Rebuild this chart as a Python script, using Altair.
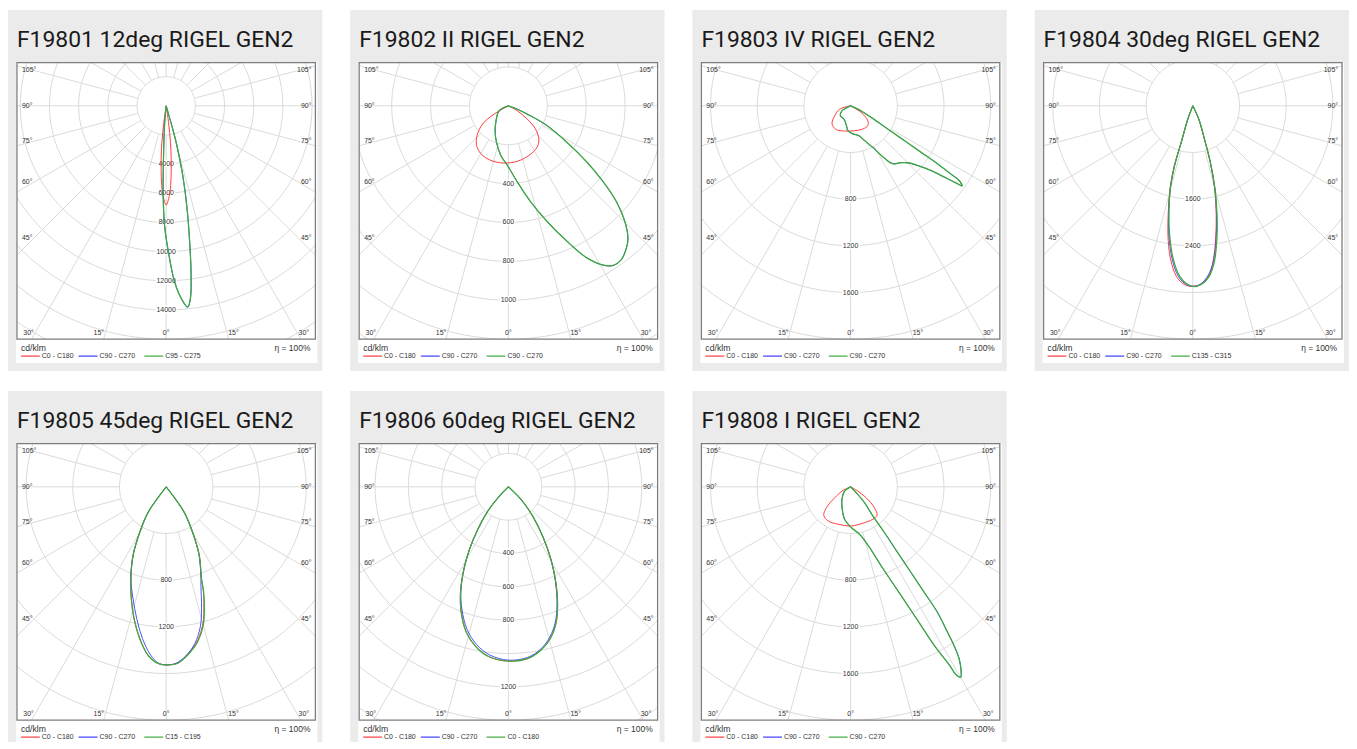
import math
import pandas as pd
import altair as alt

# ---------------- data ----------------
TITLES = ["F19801 12deg RIGEL GEN2", "F19802 II RIGEL GEN2", "F19803 IV RIGEL GEN2",
          "F19804 30deg RIGEL GEN2", "F19805 45deg RIGEL GEN2", "F19806 60deg RIGEL GEN2",
          "F19808 I RIGEL GEN2"]
GRID_MAX = [16000, 1200, 2000, 4000, 2000, 1400, 2000]
GRID_RINGS = [8, 6, 5, 5, 5, 7, 5]
RING_LABELS = [[4000, 6000, 8000, 10000, 12000, 14000], [400, 600, 800, 1000], [800, 1200, 1600],
               [1600, 2400], [800, 1200], [400, 600, 800, 1200], [800, 1200, 1600]]
LEGEND_LABELS = [["C0 - C180", "C90 - C270", "C95 - C275"],
                 ["C0 - C180", "C90 - C270", "C90 - C270"],
                 ["C0 - C180", "C90 - C270", "C90 - C270"],
                 ["C0 - C180", "C90 - C270", "C135 - C315"],
                 ["C0 - C180", "C90 - C270", "C15 - C195"],
                 ["C0 - C180", "C90 - C270", "C0 - C180"],
                 ["C0 - C180", "C90 - C270", "C90 - C270"]]
SIDE_ANGLES = [105, 90, 75, 60, 45]
BOTTOM_ANGLES = [-30, -15, 0, 15, 30]
SPOKE_ANGLES = list(range(0, 360, 15))
UNIT = "cd/klm"
EFFICIENCY = "η = 100%"

# panel 1
P1_RED_ANG = [-10, -8, -6.7, -5.4, -3.5, -2.1, 0, 2.1, 3.5, 5.4, 6.7, 8, 10]
P1_RED_VAL = [0, 1150, 2520, 3650, 5230, 6130, 6800, 6130, 5230, 3650, 2520, 1150, 0]
P1_GREEN_ANG = [-6, -4.8, -2.9, -2.0, -0.8, 1.25, 2.7, 4.4, 6.1, 7.2, 8.4, 9.8, 11.5, 13.4, 15.3, 15.8, 17]
P1_GREEN_VAL = [0, 1370, 3640, 5900, 8170, 10440, 12040, 13200, 13860, 13270, 11700, 9450, 7180, 4900, 2590, 1415, 0]
P1_BLUE_VAL = [0, 1370, 3640, 5900, 8170, 10440, 12040, 13220, 13900, 13300, 11700, 9450, 7180, 4900, 2590, 1415, 0]
# panel 2
P2_RED_ANG = [-66, -59.8, -54.8, -46.5, -38.7, -29.8, -17.8, -4.3, 9.1, 22.5, 34.8, 42.6, 49.5, 54.9, 60.9, 64]
P2_RED_VAL = [0, 85, 162, 222, 261, 284, 295, 295, 289, 276, 259, 231, 183, 118, 52, 0]
P2_GREEN_ANG = [-66, -61.8, -37.2, -26.6, -18.1, -8.7, -1, 6.7, 13, 18.5, 23.4, 27.3, 30.8, 33.3, 36.3,
                39.7, 42.1, 45.2, 48.4, 51.3, 54.4, 58.1, 62.9, 66.3, 70, 72]
P2_GREEN_VAL = [0, 54, 107, 152, 197, 258, 306, 394, 506, 627, 759, 880, 954, 982, 981,
                950, 917, 844, 743, 625, 496, 354, 224, 106, 40, 0]
# panel 3
P3_RED_ANG = [-80, -73, -58, -45.5, -30.8, -13.3, 9.1, 27.9, 40.9, 49.1, 58, 59.7, 61]
P3_RED_VAL = [0, 98, 161, 223, 238, 222, 216, 225, 225, 195, 107, 39, 0]
P3_GREEN_ANG = [-65, -60, -45.9, -26.6, -12.6, -6.1, 4.7, 15.5, 21.8, 29, 32.8, 36, 41.5, 45, 48.3, 51.1,
                52.7, 53.9, 54.3, 55.5, 55.8, 56.3, 56.6, 57.1, 58, 60.6, 65.6, 70]
P3_GREEN_VAL = [0, 85, 122, 127, 169, 214, 242, 265, 321, 422, 533, 613, 651, 690, 768, 882,
                1006, 1131, 1177, 1126, 1035, 894, 721, 548, 375, 202, 69, 0]
# panel 4
P4_RED_ANG = [-24, -20.6, -17.6, -17.2, -15.4, -13.0, -10.9, -8.4, -5.5, -2.65, 0, 2.7, 5.6, 7.8, 9.8, 12.1,
              14.8, 17.2, 19.3, 24.2, 26]
P4_RED_VAL = [0, 242, 655, 1068, 1472, 1870, 2254, 2638, 2936, 3067, 3092, 3056, 2908, 2634, 2303, 1915,
              1468, 1010, 601, 249, 0]
P4_BLUE_ANG = [-24, -20.6, -17.6, -17.0, -15.2, -12.8, -10.5, -7.8, -4.9, -2.0, 0.2, 2.2, 5.0, 7.6, 10.0,
               12.3, 14.9, 17.2, 19.3, 24.2, 26]
P4_BLUE_VAL = [0, 242, 655, 1068, 1470, 1865, 2250, 2635, 2930, 3068, 3095, 3068, 2930, 2680, 2305,
               1915, 1468, 1010, 601, 249, 0]
P4_GREEN_ANG = [-24, -20.6, -17.6, -17.0, -15.2, -12.7, -10.2, -7.4, -4.4, -1.6, 0.5, 2.7, 5.5, 7.9, 10.3,
                12.5, 15.0, 17.3, 19.3, 24.2, 26]
P4_GREEN_VAL = [0, 242, 655, 1068, 1470, 1861, 2248, 2632, 2931, 3065, 3098, 3067, 2936, 2692, 2307,
                1918, 1468, 1010, 601, 249, 0]
# panel 5
P5_GREEN_ANG = [-40, -37.1, -35.2, -30.1, -25.7, -21.0, -17.3, -13.7, -9.9, -6.2, -2.7, 0.3, 3.8, 7.3, 11.5,
                15.0, 17.4, 19.6, 21.0, 25.7, 30.1, 35.2, 37.1, 40]
P5_GREEN_VAL = [0, 117, 271, 453, 655, 845, 1004, 1162, 1319, 1450, 1514, 1526, 1515, 1453, 1355,
                1228, 1094, 957, 845, 655, 453, 271, 117, 0]
P5_RED_VAL = [0, 117, 271, 453, 655, 845, 1004, 1162, 1319, 1450, 1514, 1526, 1513, 1448, 1345,
              1215, 1083, 950, 842, 655, 453, 271, 117, 0]
P5_BLUE_ANG = [-40, -37.1, -35.2, -30.1, -25.7, -21.0, -16.5, -12.6, -8.9, -5.3, -2.5, 0.3, 3.2, 6.7, 10.4,
               13.7, 16.2, 19.4, 21.0, 25.7, 30.1, 35.2, 37.1, 40]
P5_BLUE_VAL = [0, 117, 271, 453, 655, 845, 1000, 1157, 1315, 1447, 1513, 1526, 1514, 1457, 1364,
               1235, 1087, 896, 830, 650, 453, 271, 117, 0]
# panel 6
P6_GREEN_ANG = [-50, -44, -40.3, -35.7, -31.9, -28.4, -24.4, -20.6, -16.2, -11.4, -6.3, 0, 6.4, 11.2, 15.4,
                19.1, 22.5, 26.4, 30.4, 34.8, 39.7, 45, 50]
P6_GREEN_VAL = [0, 77, 191, 314, 441, 561, 695, 804, 907, 980, 1027, 1045, 1037, 1000, 945,
                870, 771, 640, 503, 359, 227, 107, 0]
P6_BLUE_VAL = [0, 77, 191, 314, 441, 561, 690, 790, 890, 965, 1015, 1040, 1030, 993, 935,
               860, 762, 636, 503, 359, 227, 107, 0]
# panel 7
P7_RED_ANG = [-70, -64.4, -55.5, -49.2, -43.3, -33.4, -18.6, 1, 18.6, 34.4, 42.9, 48.8, 54.9, 59.4, 66]
P7_RED_VAL = [0, 72, 165, 274, 335, 350, 338, 335, 329, 337, 333, 271, 163, 72, 0]
P7_GREEN_ANG = [-60, -54.2, -34.4, -20.2, -10.4, 0.9, 10.7, 17.3, 21.1, 23.9, 25.7, 26.9, 27.8, 29.0, 29.3,
                30.0, 30.9, 32.3, 33.1, 33.7, 34.7, 34.9, 35.2, 35.6, 36.5, 37.3, 41.2, 43.4, 46]
P7_GREEN_VAL = [0, 63, 131, 206, 283, 349, 413, 544, 724, 925, 1127, 1330, 1533, 1750, 1845,
                1886, 1845, 1738, 1619, 1493, 1305, 1100, 896, 691, 487, 314, 181, 70, 0]

CURVES = [
    [(P1_RED_ANG, P1_RED_VAL), (P1_GREEN_ANG, P1_BLUE_VAL), (P1_GREEN_ANG, P1_GREEN_VAL)],
    [(P2_RED_ANG, P2_RED_VAL), (P2_GREEN_ANG, P2_GREEN_VAL), (P2_GREEN_ANG, P2_GREEN_VAL)],
    [(P3_RED_ANG, P3_RED_VAL), (P3_GREEN_ANG, P3_GREEN_VAL), (P3_GREEN_ANG, P3_GREEN_VAL)],
    [(P4_RED_ANG, P4_RED_VAL), (P4_BLUE_ANG, P4_BLUE_VAL), (P4_GREEN_ANG, P4_GREEN_VAL)],
    [(P5_GREEN_ANG, P5_RED_VAL), (P5_BLUE_ANG, P5_BLUE_VAL), (P5_GREEN_ANG, P5_GREEN_VAL)],
    [(P6_GREEN_ANG, P6_GREEN_VAL), (P6_GREEN_ANG, P6_BLUE_VAL), (P6_GREEN_ANG, P6_GREEN_VAL)],
    [(P7_RED_ANG, P7_RED_VAL), (P7_GREEN_ANG, P7_GREEN_VAL), (P7_GREEN_ANG, P7_GREEN_VAL)],
]

# ---------------- styling / layout ----------------
CARD = "#ebebeb"
GRID = "#dadada"
FRAME = "#7d7d7d"
TXT = "#333333"
COLORS = ["#ff3c3c", "#3c3cff", "#3daa3d"]
WIDTHS = [1.0, 0.9, 1.3]
W, H = 300, 278
CY = 43.4
S = H - CY                      # pixels per unit radius
XD = [-150 / S, 150 / S]
YD = [-1.0, CY / S]
SMALL_FONT = "Liberation Sans"


def X(f="x"):
    return alt.X(f"{f}:Q", scale=alt.Scale(domain=XD, nice=False, zero=False), axis=None)


def Y(f="y"):
    return alt.Y(f"{f}:Q", scale=alt.Scale(domain=YD, nice=False, zero=False), axis=None)


ONE = pd.DataFrame({"k": [0]})


def panel(k, row):
    n = GRID_RINGS[k]
    rmax = GRID_MAX[k]
    card_bottom = 310 if row == 0 else 300
    white_bottom = 302 if row == 0 else 300
    layers = []
    layers.append(alt.Chart(ONE).mark_rect(color=CARD).encode(
        x=alt.value(-9), x2=alt.value(307), y=alt.value(-53), y2=alt.value(card_bottom)))
    layers.append(alt.Chart(ONE).mark_rect(color="white").encode(
        x=alt.value(-1), x2=alt.value(302), y=alt.value(0), y2=alt.value(white_bottom)))

    # rings
    rows = []
    for j in range(1, int(math.ceil(1.2 * n)) + 1):
        r = j / n
        for i, a in enumerate(range(0, 361, 3)):
            rows.append({"ring": j, "i": i, "x": r * math.sin(math.radians(a)),
                         "y": r * math.cos(math.radians(a))})
    rings = pd.DataFrame(rows)
    layers.append(alt.Chart(rings).mark_line(color=GRID, strokeWidth=1, clip=True).encode(
        x=X(), y=Y(), detail="ring:N", order="i:Q"))

    # spokes
    r0, r1 = 1.0 / n, 1.4
    sp = pd.DataFrame({"a": SPOKE_ANGLES})
    sp["x"] = [r0 * math.sin(math.radians(a)) for a in SPOKE_ANGLES]
    sp["y"] = [-r0 * math.cos(math.radians(a)) for a in SPOKE_ANGLES]
    sp["x2"] = [r1 * math.sin(math.radians(a)) for a in SPOKE_ANGLES]
    sp["y2"] = [-r1 * math.cos(math.radians(a)) for a in SPOKE_ANGLES]
    layers.append(alt.Chart(sp).mark_rule(color=GRID, strokeWidth=1, clip=True).encode(
        x=X(), y=Y(), x2="x2:Q", y2="y2:Q"))

    # ring value labels
    rl = pd.DataFrame({"v": RING_LABELS[k]})
    rl["x"] = 0.0
    rl["y"] = [-v / rmax for v in RING_LABELS[k]]
    rl["t"] = [str(v) for v in RING_LABELS[k]]
    layers.append(alt.Chart(rl).mark_text(font=SMALL_FONT, fontSize=7, stroke="white", strokeWidth=3,
                                          color="white", baseline="middle").encode(x=X(), y=Y(), text="t:N"))
    layers.append(alt.Chart(rl).mark_text(font=SMALL_FONT, fontSize=7, color=TXT,
                                          baseline="middle").encode(x=X(), y=Y(), text="t:N"))

    # curves
    for (ang, val), col, sw in zip(CURVES[k], COLORS, WIDTHS):
        df = pd.DataFrame({"ang": ang, "val": val, "i": list(range(len(ang)))})
        layers.append(alt.Chart(df).transform_calculate(
            x=f"datum.val / {rmax} * sin(datum.ang * PI / 180)",
            y=f"-datum.val / {rmax} * cos(datum.ang * PI / 180)",
        ).mark_line(color=col, strokeWidth=sw, interpolate="catmull-rom", clip=True).encode(
            x=X(), y=Y(), order="i:Q"))

    # angle labels
    xl = 133 / S
    side = pd.DataFrame({"a": SIDE_ANGLES})
    side["t"] = [f"{a}°" for a in SIDE_ANGLES]
    side["y"] = [-xl * math.cos(math.radians(a)) / math.sin(math.radians(a)) for a in SIDE_ANGLES]
    side["xl"] = (5 - 150) / S
    side["xr"] = (296 - 150) / S
    layers.append(alt.Chart(side).mark_text(font=SMALL_FONT, fontSize=7, color=TXT, align="left",
                                            baseline="middle").encode(x=X("xl"), y=Y(), text="t:N"))
    layers.append(alt.Chart(side).mark_text(font=SMALL_FONT, fontSize=7, color=TXT, align="right",
                                            baseline="middle").encode(x=X("xr"), y=Y(), text="t:N"))
    yb = (271.7 - CY) / S
    off = 6.5 / S
    bot = pd.DataFrame({"a": BOTTOM_ANGLES})
    bot["t"] = [f"{abs(a)}°" for a in BOTTOM_ANGLES]
    bot["x"] = [0.0 if a == 0 else math.copysign(yb * math.tan(math.radians(abs(a))) + off, a)
                for a in BOTTOM_ANGLES]
    bot["y"] = -yb
    layers.append(alt.Chart(bot).mark_text(font=SMALL_FONT, fontSize=7, color=TXT, align="center",
                                           baseline="middle").encode(x=X(), y=Y(), text="t:N"))

    # frame
    layers.append(alt.Chart(ONE).mark_rect(fillOpacity=0, stroke=FRAME, strokeWidth=1.3).encode(
        x=alt.value(0), x2=alt.value(W), y=alt.value(0), y2=alt.value(H)))

    # legend
    layers.append(alt.Chart(ONE).mark_text(text=UNIT, font=SMALL_FONT, fontSize=8.7, color=TXT,
                                           align="left", baseline="middle").encode(
        x=alt.value(4), y=alt.value(H + 9)))
    layers.append(alt.Chart(ONE).mark_text(text=EFFICIENCY, font=SMALL_FONT, fontSize=8.5, color=TXT,
                                           align="right", baseline="middle").encode(
        x=alt.value(295), y=alt.value(H + 9)))
    for (x0, name), col in zip(zip([4, 62, 128], LEGEND_LABELS[k]), COLORS):
        layers.append(alt.Chart(ONE).mark_rule(color=col, strokeWidth=1.2).encode(
            x=alt.value(x0), x2=alt.value(x0 + 19), y=alt.value(H + 17)))
        layers.append(alt.Chart(ONE).mark_text(text=name, font=SMALL_FONT, fontSize=7, color=TXT,
                                               align="left", baseline="middle").encode(
            x=alt.value(x0 + 21), y=alt.value(H + 17)))

    # card title
    layers.append(alt.Chart(ONE).mark_text(text=TITLES[k], font="Roboto", fontSize=23, color="#1a1a1a",
                                           align="left", baseline="alphabetic").encode(
        x=alt.value(0), y=alt.value(-16)))

    return alt.layer(*layers).properties(width=W, height=H)


charts = [panel(k, 0 if k < 4 else 1) for k in range(7)]
chart = alt.concat(*charts, columns=4, spacing={"row": 105, "column": 44}, bounds="flush").properties(
    padding=0, background="white"
).configure_view(strokeWidth=0)

chart.save("out.html", embed_options={"renderer": "svg", "actions": False})
